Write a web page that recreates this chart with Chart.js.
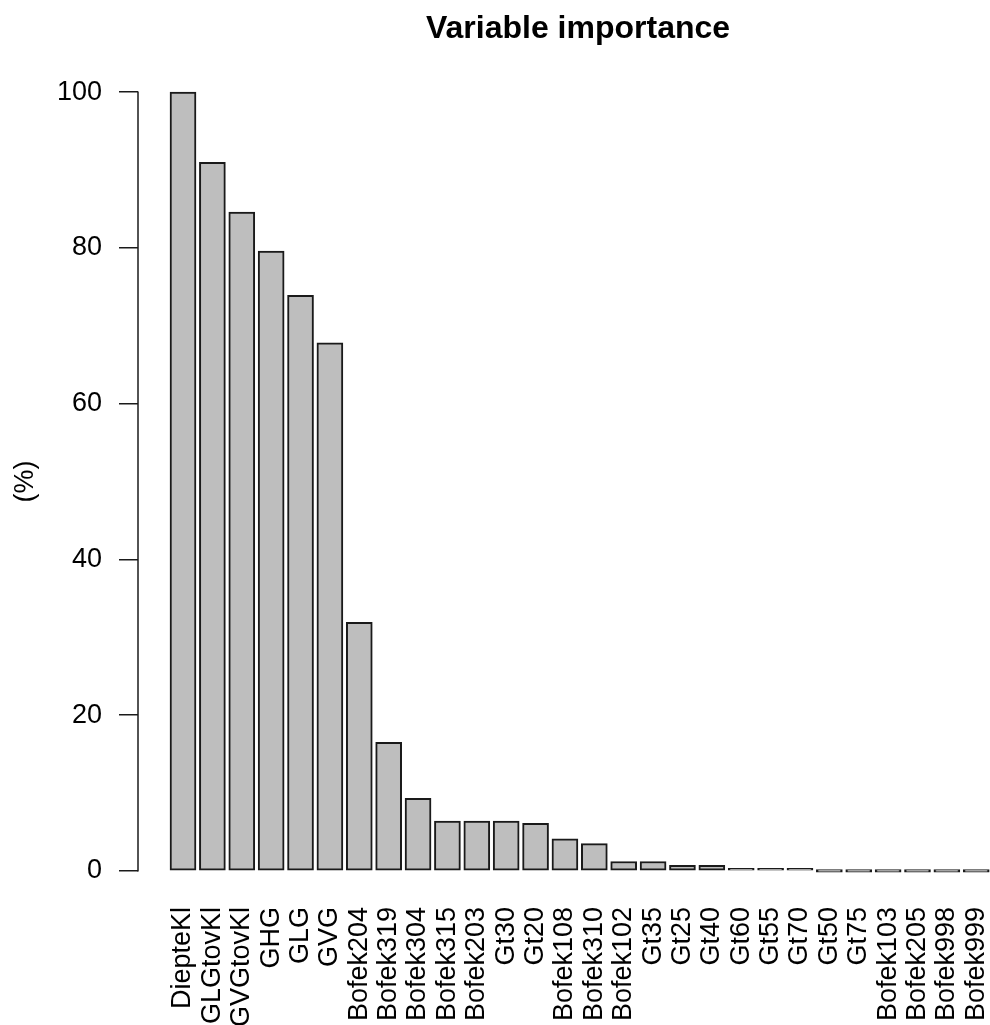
<!DOCTYPE html>
<html>
<head>
<meta charset="utf-8">
<script src="https://cdn.jsdelivr.net/npm/chart.js@4"></script>
<style>
  html, body { margin: 0; padding: 0; background: #fff; }
  canvas { display: block; }
</style>
</head>
<body>
<canvas id="importanceChart" width="990" height="1025"></canvas>
<script>
// Data
const variables = [
    'DiepteKl', 'GLGtovKl', 'GVGtovKl', 'GHG', 'GLG', 'GVG',
    'Bofek204', 'Bofek319', 'Bofek304', 'Bofek315', 'Bofek203', 'Gt30',
    'Gt20', 'Bofek108', 'Bofek310', 'Bofek102', 'Gt35', 'Gt25',
    'Gt40', 'Gt60', 'Gt55', 'Gt70', 'Gt50', 'Gt75',
    'Bofek103', 'Bofek205', 'Bofek998', 'Bofek999'
];
const importance = [
    100, 91.0, 84.6, 79.6, 73.9, 67.8,
    31.9, 16.5, 9.3, 6.4, 6.4, 6.4,
    6.1, 4.1, 3.5, 1.2, 1.2, 0.7,
    0.7, 0.3, 0.3, 0.3, 0, 0,
    0, 0, 0, 0
];
const yTicks = [0, 20, 40, 60, 80, 100];

const COLORS = {
    bar: '#bebebe',
    border: '#1a1a1a',
    text: '#000000'
};
const FONT = "'Liberation Sans', Arial, Helvetica, sans-serif";

// R draws the y axis line only between the first and last tick
const rAxisLine = {
    id: 'rAxisLine',
    afterDraw(chart) {
        const { ctx, chartArea, scales: { y } } = chart;
        ctx.save();
        ctx.strokeStyle = COLORS.border;
        ctx.lineWidth = 1.5;
        ctx.beginPath();
        ctx.moveTo(chartArea.left, y.getPixelForValue(yTicks[0]) + 0.75);
        ctx.lineTo(chartArea.left, y.getPixelForValue(yTicks[yTicks.length - 1]) - 0.75);
        ctx.stroke();
        ctx.restore();
    }
};

// Main title, centred over the (wider) R plot region
const mainTitle = {
    id: 'mainTitle',
    afterDraw(chart) {
        const { ctx } = chart;
        ctx.save();
        ctx.font = `bold 32px ${FONT}`;
        ctx.fillStyle = COLORS.text;
        ctx.textAlign = 'center';
        ctx.textBaseline = 'alphabetic';
        ctx.fillText('Variable importance', 578, 38);
        ctx.restore();
    }
};

new Chart(document.getElementById('importanceChart'), {
    type: 'bar',
    data: {
        datasets: [{
            data: importance.map((v, i) => ({ x: i + 1, y: v })),
            backgroundColor: COLORS.bar,
            borderColor: COLORS.border,
            borderWidth: 2,
            borderSkipped: false,
            barThickness: 26,
            minBarLength: 2.5
        }]
    },
    options: {
        responsive: false,
        animation: false,
        layout: { padding: { top: 61, left: 0, right: 0, bottom: 0 } },
        plugins: {
            legend: { display: false },
            tooltip: { enabled: false },
            title: { display: false }
        },
        scales: {
            x: {
                type: 'linear',
                offset: false,
                min: -0.532,
                max: 28.468,
                grid: { display: false, drawTicks: false },
                border: { display: false },
                afterBuildTicks: scale => {
                    scale.ticks = variables.map((_, i) => ({ value: i + 1 }));
                },
                afterFit: scale => {
                    scale.height = 123;
                    scale.paddingLeft = 0;
                    scale.paddingRight = 0;
                },
                ticks: {
                    autoSkip: false,
                    minRotation: 90,
                    maxRotation: 90,
                    padding: 5,
                    color: COLORS.text,
                    font: { family: FONT, size: 27, lineHeight: 1 },
                    callback: v => variables[v - 1]
                }
            },
            y: {
                min: -4,
                max: 104,
                afterBuildTicks: scale => {
                    scale.ticks = yTicks.map(v => ({ value: v }));
                },
                afterFit: scale => { scale.width = 138; },
                grid: {
                    drawOnChartArea: false,
                    drawTicks: true,
                    tickLength: 19,
                    color: COLORS.border,
                    lineWidth: 1.5
                },
                border: { display: false },
                ticks: {
                    padding: 17,
                    color: COLORS.text,
                    font: { family: FONT, size: 27 }
                },
                title: {
                    display: true,
                    text: '(%)',
                    color: COLORS.text,
                    font: { family: FONT, size: 27 },
                    padding: { top: 9, bottom: 0 }
                }
            }
        }
    },
    plugins: [rAxisLine, mainTitle]
});
</script>
</body>
</html>
